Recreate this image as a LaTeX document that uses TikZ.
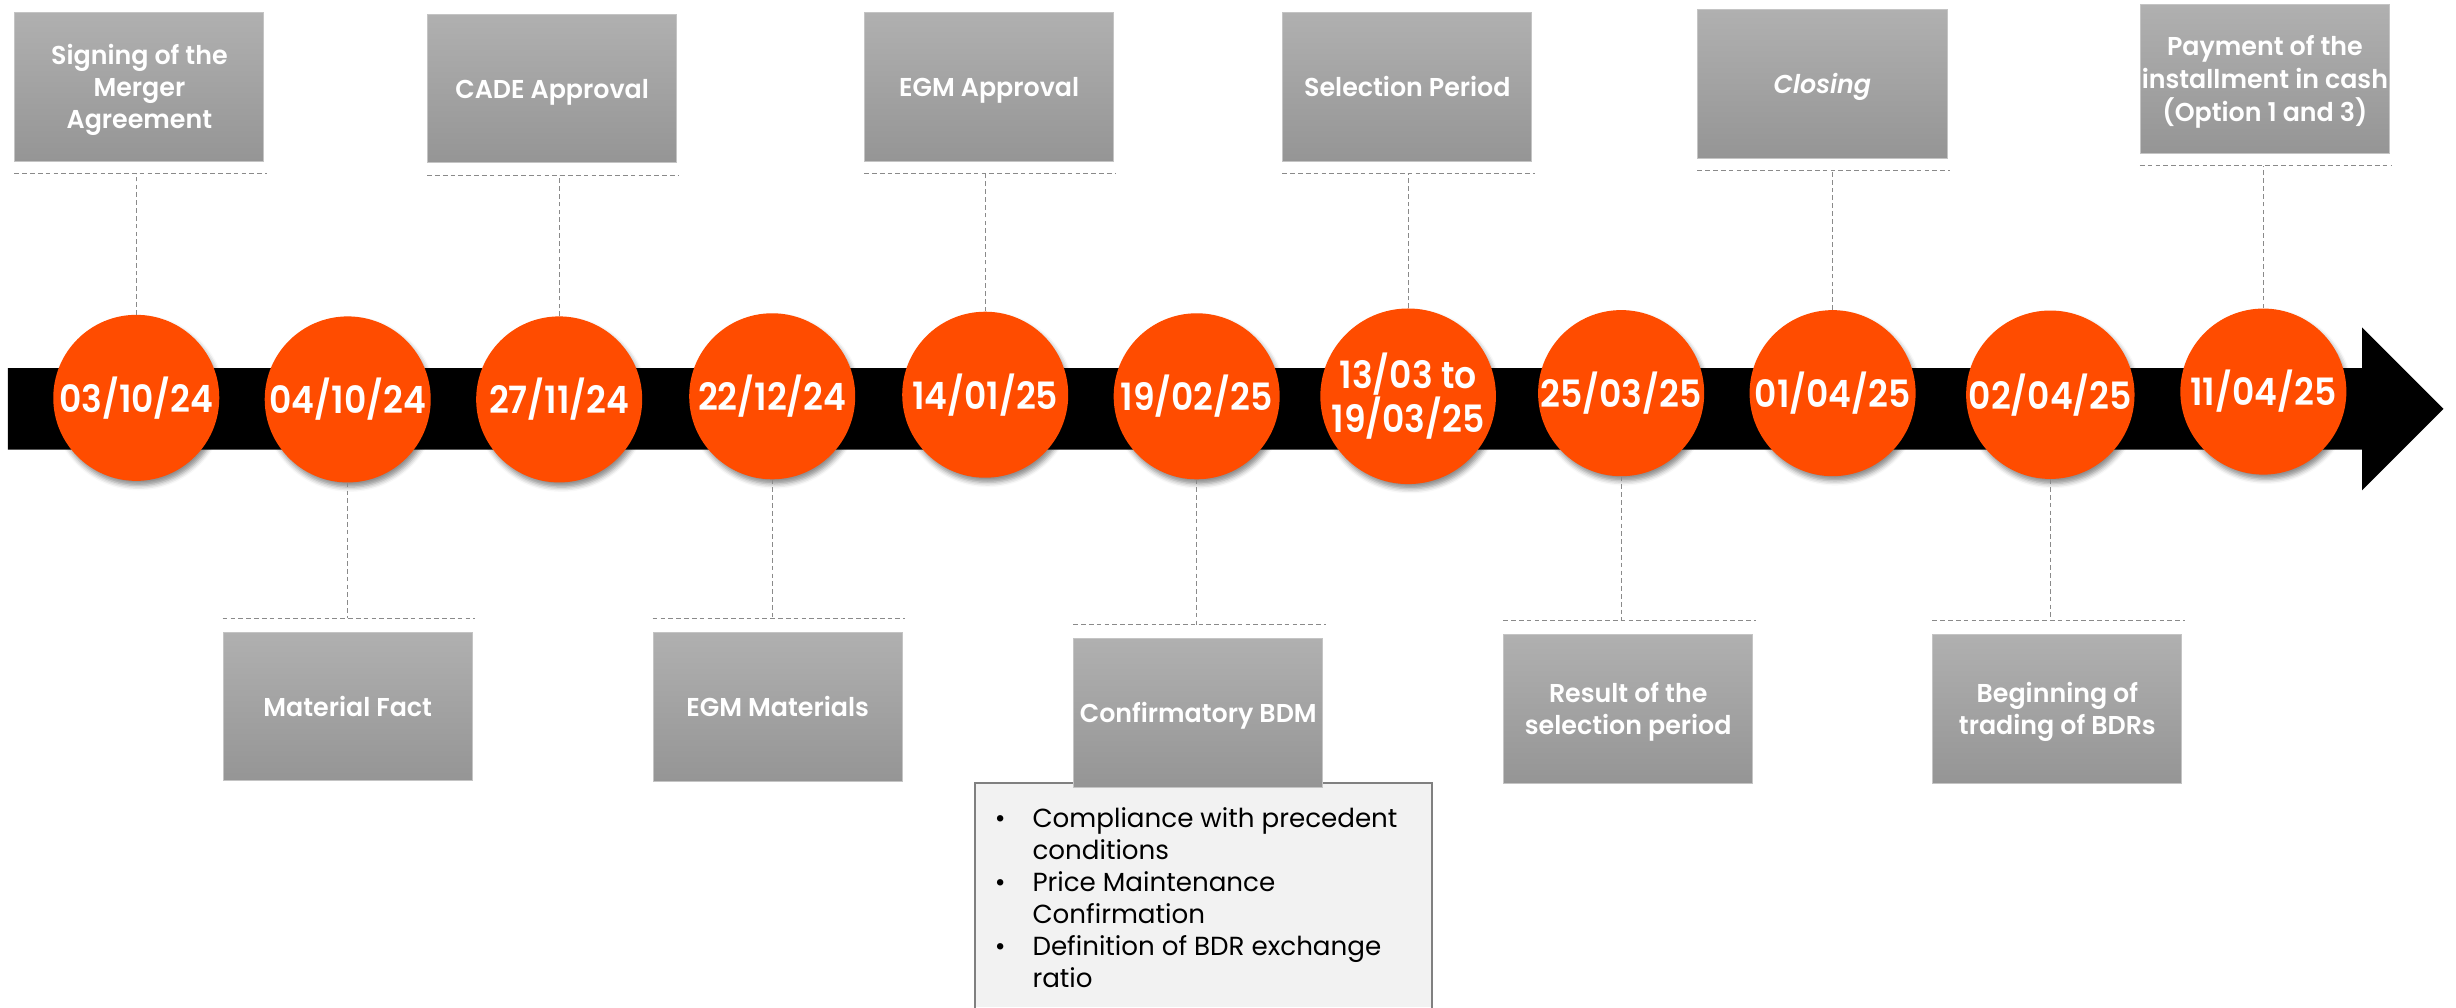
\documentclass[tikz,border=0pt]{standalone}
\usepackage{fontspec}
\setmainfont{Poppins}
\newfontfamily\datefont{Poppins SemiBold}[FakeStretch=0.92]
\newfontfamily\labelfont{Poppins SemiBold}[FakeStretch=0.98, ItalicFont={Poppins SemiBold Italic}]
\usetikzlibrary{shadows.blur}

\definecolor{dateorange}{HTML}{FF4C00}
\definecolor{boxtop}{HTML}{B0B0B0}
\definecolor{boxbot}{HTML}{959595}
\definecolor{boxline}{HTML}{C4C4C4}
\definecolor{guidegray}{HTML}{8A8A8A}
\definecolor{notefill}{HTML}{F2F2F2}
\definecolor{noteline}{HTML}{808080}

\newcommand{\bitem}[1]{\makebox[24pt][l]{\textbullet}#1}
\newcommand{\bcont}[1]{\hspace*{24pt}#1}
% a label block, centred lines, rows one baselineskip apart
\newcommand{\evt}[1]{\begin{tabular}{@{}c@{}}#1\end{tabular}}

\tikzset{
  datecircle/.style={circle, fill=dateorange, minimum size=106pt, inner sep=0pt,
    text=white, align=center,
    font=\datefont\fontsize{24}{22}\selectfont,
    blur shadow={shadow xshift=1.5pt, shadow yshift=-3pt,
      shadow blur radius=3pt, shadow opacity=45}},
  eventbox/.style={rectangle, draw=boxline, line width=0.6pt,
    top color=boxtop, bottom color=boxbot,
    minimum width=159pt, minimum height=95pt, inner sep=0pt,
    text=white, text height=12.8pt, text depth=0pt,
    font=\labelfont\fontsize{16.5}{20.5}\selectfont},
  guide/.style={draw=guidegray, line width=0.7pt, dash pattern=on 3pt off 2pt},
  notebox/.style={rectangle, fill=notefill, inner sep=0pt,
    minimum width=291.5pt, minimum height=143pt},
  noteborder/.style={draw=noteline, line width=1.2pt},
  notetext/.style={inner sep=0pt, align=left,
    font=\fontsize{16.7}{20.4}\selectfont}
}

\begin{document}
\begin{tikzpicture}[x=1pt, y=-1pt]
\useasboundingbox (0,0) rectangle (1568,643);

% timeline arrow
\fill[black] (5,235) -- (1508,235) -- (1508,209) -- (1560,261)
  -- (1508,313) -- (1508,287) -- (5,287) -- cycle;

% date markers
\node[datecircle] (c1)  at (87,254)   {03/10/24};
\node[datecircle] (c2)  at (222,255)  {04/10/24};
\node[datecircle] (c3)  at (357,255)  {27/11/24};
\node[datecircle] (c4)  at (493,253)  {22/12/24};
\node[datecircle] (c5)  at (629,252)  {14/01/25};
\node[datecircle] (c6)  at (764,253)  {19/02/25};
\node[datecircle] (c7)  at (899,253)  {13/03 to\\19/03/25};
\node[datecircle] (c8)  at (1035,251) {25/03/25};
\node[datecircle] (c9)  at (1170,251) {01/04/25};
\node[datecircle] (c10) at (1309,252) {02/04/25};
\node[datecircle] (c11) at (1445,250) {11/04/25};

% events above the line
\node[eventbox] (t1) at (89,55.5)    {\evt{Signing of the\\Merger\\Agreement}};
\node[eventbox] (t2) at (352.5,56.5) {\evt{CADE Approval}};
\node[eventbox] (t3) at (631.5,55.5) {\evt{EGM Approval}};
\node[eventbox] (t4) at (898.5,55.5) {\evt{Selection Period}};
\node[eventbox] (t5) at (1163.5,53.5) {\evt{\itshape Closing}};
\node[eventbox] (t6) at (1446,50.5)  {\evt{Payment of the\\installment in cash\\(Option 1 and 3)}};

\foreach \b/\c in {t1/c1, t2/c3, t3/c5, t4/c7, t5/c9, t6/c11} {
  \coordinate (\b rail) at ([yshift=-7.5pt]\b.south);
  \draw[guide] ([yshift=-7.5pt]\b.south west) -- ([yshift=-7.5pt,xshift=1.5pt]\b.south east);
  \draw[guide] (\c.north) -- (\c.north |- \b rail);
}

% notes under the confirmatory meeting
\node[notebox, anchor=north west] (notes) at (622.5,500) {};
\draw[noteborder] (notes.south west) -- (notes.north west)
  -- (notes.north east) -- (notes.south east);
\node[notetext, anchor=north west] (notelist) at (635,515.5)
  {\bitem{Compliance with precedent}\\
   \bcont{conditions}\\
   \bitem{Price Maintenance}\\
   \bcont{Confirmation}\\
   \bitem{Definition of BDR exchange}\\
   \bcont{ratio}};

% events below the line
\node[eventbox] (u1) at (222,451)    {\evt{Material Fact}};
\node[eventbox] (u2) at (496.5,451.3) {\evt{EGM Materials}};
\node[eventbox] (u3) at (765,455)    {\evt{Confirmatory BDM}};
\node[eventbox] (u4) at (1039.5,452.5) {\evt{Result of the\\selection period}};
\node[eventbox] (u5) at (1313.5,452.5) {\evt{Beginning of\\trading of BDRs}};

\foreach \b/\c in {u1/c2, u2/c4, u3/c6, u4/c8, u5/c10} {
  \coordinate (\b rail) at ([yshift=8.5pt]\b.north);
  \draw[guide] ([yshift=8.5pt]\b.north west) -- ([yshift=8.5pt,xshift=1.5pt]\b.north east);
  \draw[guide] (\c.south) -- (\c.south |- \b rail);
}
\end{tikzpicture}
\end{document}
